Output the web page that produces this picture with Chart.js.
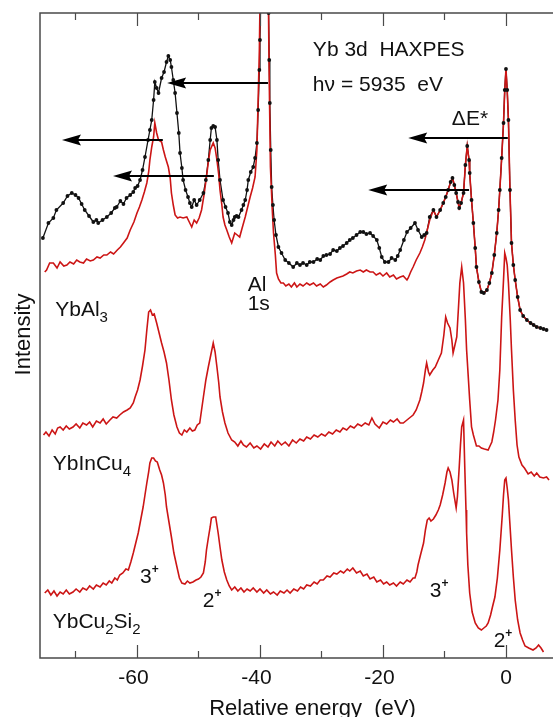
<!DOCTYPE html>
<html>
<head>
<meta charset="utf-8">
<script src="https://cdn.jsdelivr.net/npm/chart.js@4.4.1/dist/chart.umd.min.js"></script>
<style>
html,body{margin:0;padding:0;background:#fff;overflow:hidden;width:553px;height:717px;}
canvas{display:block;}
</style>
</head>
<body>
<canvas id="c" width="600" height="717"></canvas>
<script>
// ---- data (energy in eV, intensity in arb. units) ----
const ybAl3Black = [
[-75.3,420],[-74.4,435],[-73.6,440],[-73.1,448],[-72.0,455],[-71.3,462],[-70.6,465],[-70.0,463],[-69.5,460],[-69.0,454],
[-68.5,448],[-67.8,442],[-67.1,436],[-66.6,438],[-66.3,435],[-65.6,438],[-64.9,441],[-64.2,445],[-63.6,450],[-63.3,451],
[-62.7,457],[-62.2,454],[-61.7,460],[-61.1,463],[-60.6,466],[-60.3,470],[-59.9,472],[-59.5,478],[-59.1,488],[-58.7,501],
[-58.2,518],[-57.9,528],[-57.6,538],[-57.3,558],[-57.1,576],[-56.8,570],[-56.5,565],[-56.0,580],[-55.6,586],[-55.2,596],
[-54.9,602],[-54.6,598],[-54.4,591],[-54.1,578],[-53.8,565],[-53.5,545],[-53.2,525],[-53.0,505],[-52.7,490],[-52.5,478],
[-52.1,468],[-51.7,461],[-51.4,455],[-51.1,451],[-50.7,458],[-50.3,453],[-49.8,458],[-49.2,465],[-48.8,478],[-48.4,498],
[-48.1,518],[-47.9,530],[-47.6,532],[-47.3,531],[-47.0,518],[-46.8,498],[-46.5,478],[-46.0,458],[-45.6,451],[-45.2,445],
[-44.9,436],[-44.6,433],[-44.3,438],[-44.1,441],[-43.8,442],[-43.5,441],[-43.0,448],[-42.7,453],[-42.4,458],[-42.1,468],
[-41.9,478],[-41.5,486],[-41.1,491],[-40.8,500],[-40.5,515],[-40.3,548],[-40.1,588],[-40.0,618],[-39.8,690],[-39.3,820],
[-38.8,690],[-38.6,645],[-38.5,598],[-38.4,555],[-38.25,508],[-38.1,471],[-37.9,453],[-37.7,438],[-37.4,423],[-37.0,411],
[-36.5,405],[-35.9,398],[-35.3,395],[-34.6,391],[-34.0,395],[-33.5,393],[-33.0,395],[-32.4,393],[-31.9,396],[-31.3,396],
[-30.7,399],[-30.2,398],[-29.7,402],[-29.2,403],[-28.6,404],[-28.1,408],[-27.5,407],[-27.0,410],[-26.5,412],[-25.9,415],
[-25.4,418],[-24.9,420],[-24.3,423],[-23.7,426],[-23.2,426],[-22.7,424],[-22.1,425],[-21.6,422],[-21.0,418],[-20.6,410],
[-20.2,401],[-19.7,396],[-19.1,396],[-18.6,400],[-18.0,398],[-17.6,402],[-17.2,408],[-16.6,418],[-16.1,426],[-15.5,430],
[-14.8,435],[-14.3,428],[-13.7,421],[-13.3,423],[-12.9,425],[-12.4,441],[-11.8,448],[-11.3,441],[-10.7,448],[-10.2,455],
[-9.8,461],[-9.4,468],[-9.0,476],[-8.7,480],[-8.4,473],[-8.1,465],[-7.8,456],[-7.6,450],[-7.3,455],[-6.9,465],
[-6.6,493],[-6.3,512],[-6.0,498],[-5.9,485],[-5.6,458],[-5.3,435],[-5.0,410],[-4.8,391],[-4.4,376],[-4.0,366],
[-3.6,365],[-3.1,368],[-2.7,375],[-2.3,385],[-1.9,403],[-1.5,425],[-1.2,448],[-1.0,468],[-0.7,500],[-0.4,535],
[-0.2,568],[0.0,589],[0.2,568],[0.4,538],[0.65,468],[0.9,415],[1.2,393],[1.5,378],[1.9,361],[2.3,348],
[2.8,342],[3.4,338],[4.0,335],[4.5,333],[5.0,331],[5.6,330],[6.1,329],[6.6,328]
];
const ybAl3RedLow = [
[-75.0,386],[-74.7,388],[-74.2,395],[-73.6,395],[-73.0,390],[-72.5,396],[-71.9,392],[-71.4,393],[-70.9,396],[-70.3,394],
[-69.8,398],[-69.3,396],[-68.7,395],[-68.2,399],[-67.6,397],[-67.1,398],[-66.5,401],[-66.0,400],[-65.4,403],[-64.9,403],
[-64.3,406],[-63.8,404],[-63.2,408],[-62.7,411],[-62.2,415],[-61.6,420],[-61.1,428],[-60.5,436],[-60.0,445],[-59.6,451],
[-59.2,458],[-58.8,466],[-58.4,475],[-58.1,486],[-57.9,498],[-57.6,511],[-57.3,521],[-57.1,535],[-56.8,525],[-56.5,518],
[-56.0,516],[-55.7,508],[-55.4,501],[-54.9,491],[-54.6,480],[-54.4,465],[-54.1,453],[-53.8,443],[-53.4,440],[-53.0,441],
[-52.5,440],[-51.9,441],[-51.5,436],[-51.1,431],[-50.7,438],[-50.3,435],[-49.9,440],[-49.5,448],[-49.1,463],[-48.7,481],
[-48.4,496],[-48.1,508],[-47.6,515],[-47.3,510],[-47.0,498],[-46.7,483],[-46.5,468],[-46.2,453],[-46.0,441],[-45.7,433],
[-45.4,428],[-45.0,421],[-44.6,415],[-44.3,421],[-44.1,425],[-43.7,423],[-43.3,421],[-42.9,430],[-42.4,441],[-42.0,451],
[-41.6,461],[-41.2,470],[-40.8,481],[-40.5,508],[-40.3,558],[-40.1,608],[-39.9,700],[-39.3,830],[-38.7,700],[-38.55,608],
[-38.45,558],[-38.3,491],[-38.0,448],[-37.8,425],[-37.5,403],[-37.3,385],[-37.0,379],[-36.6,375],[-36.2,375],[-35.8,372],
[-35.3,374],[-34.9,371],[-34.4,375],[-34.0,371],[-33.5,374],[-33.0,372],[-32.4,375],[-31.9,373],[-31.3,375],[-30.8,372],
[-30.2,374],[-29.7,371],[-29.2,373],[-28.6,376],[-28.1,378],[-27.5,380],[-27.0,381],[-26.5,382],[-25.9,384],[-25.4,386],
[-24.9,385],[-24.3,387],[-23.7,388],[-23.2,386],[-22.7,388],[-22.1,386],[-21.6,386],[-21.1,383],[-20.5,385],[-20.0,382],
[-19.4,385],[-18.9,381],[-18.3,383],[-17.8,379],[-17.2,381],[-16.7,382],[-16.1,378],[-15.9,380],[-15.5,386],[-15.1,391],
[-14.6,398],[-14.0,405],[-13.6,411],[-13.2,418],[-12.8,428],[-12.4,438]
];
const ybAl3Red = ybAl3RedLow.concat(ybAl3Black.filter(p => p[0] > -12.2));
const ybInCu4 = [
[-75.2,223],[-74.8,226],[-74.3,222],[-73.8,228],[-73.3,224],[-72.9,230],[-72.5,231],[-72.0,228],[-71.5,232],[-71.0,229],
[-70.4,231],[-69.9,234],[-69.3,230],[-68.8,235],[-68.2,233],[-67.7,236],[-67.2,231],[-66.6,237],[-66.0,235],[-65.5,239],
[-65.0,234],[-64.4,238],[-63.9,241],[-63.3,240],[-62.8,243],[-62.2,246],[-61.6,248],[-61.1,250],[-60.6,255],[-60.3,261],
[-59.9,268],[-59.5,278],[-59.1,292],[-58.7,308],[-58.4,328],[-58.1,346],[-57.8,348],[-57.5,343],[-57.2,344],[-56.8,335],
[-56.4,325],[-56.0,315],[-55.6,306],[-55.2,295],[-54.8,278],[-54.4,258],[-54.0,243],[-53.5,231],[-53.1,225],[-52.7,223],
[-52.3,228],[-51.9,226],[-51.4,230],[-51.0,227],[-50.6,228],[-50.2,233],[-49.8,235],[-49.5,248],[-49.2,261],[-48.8,278],
[-48.4,291],[-48.0,303],[-47.6,315],[-47.3,306],[-47.0,291],[-46.7,275],[-46.5,261],[-46.1,246],[-45.7,235],[-45.2,225],
[-44.6,218],[-44.1,216],[-43.6,212],[-43.1,217],[-42.7,213],[-42.2,211],[-41.6,215],[-41.0,210],[-40.5,212],[-39.9,209],
[-39.3,214],[-38.7,211],[-38.2,216],[-37.6,212],[-37.1,217],[-36.5,213],[-35.9,216],[-35.3,212],[-34.7,218],[-34.1,215],
[-33.5,219],[-32.9,217],[-32.4,221],[-31.8,219],[-31.2,223],[-30.6,221],[-30.0,224],[-29.4,222],[-28.8,226],[-28.2,224],
[-27.6,228],[-27.0,226],[-26.5,230],[-25.9,228],[-25.3,232],[-24.7,230],[-24.1,234],[-23.5,232],[-22.9,235],[-22.3,233],
[-21.8,240],[-21.3,234],[-20.6,230],[-20.0,236],[-19.4,234],[-18.8,238],[-18.3,236],[-17.7,239],[-17.2,235],[-16.7,235],
[-16.1,238],[-15.5,241],[-15.1,243],[-14.6,248],[-14.0,258],[-13.7,266],[-13.4,275],[-13.1,288],[-12.9,295],[-12.6,286],
[-12.4,283],[-11.9,288],[-11.5,291],[-11.0,298],[-10.5,305],[-10.1,323],[-9.8,341],[-9.5,335],[-9.1,330],[-8.8,318],
[-8.6,305],[-8.3,313],[-8.0,321],[-7.7,353],[-7.5,375],[-7.2,391],[-6.9,375],[-6.6,338],[-6.4,308],[-6.1,278],
[-5.9,258],[-5.6,231],[-5.3,223],[-4.8,212],[-4.4,212],[-4.0,210],[-3.5,209],[-2.9,208],[-2.6,212],[-2.3,216],
[-2.0,226],[-1.7,238],[-1.3,258],[-1.0,288],[-0.7,341],[-0.4,378],[-0.2,405],[0.0,400],[0.2,393],[0.4,375],
[0.7,338],[0.9,308],[1.2,268],[1.5,238],[1.8,213],[2.1,201],[2.6,193],[3.0,190],[3.6,184],[4.1,186],
[4.6,182],[5.0,185],[5.5,181],[6.1,180],[6.6,181],[7.0,178]
];
const ybCu2Si2 = [
[-75.0,65],[-74.5,68],[-74.0,63],[-73.5,67],[-73.0,62],[-72.5,66],[-72.0,64],[-71.5,68],[-71.0,64],[-70.4,66],
[-69.9,69],[-69.3,66],[-68.8,70],[-68.2,68],[-67.7,72],[-67.1,69],[-66.6,73],[-66.0,71],[-65.5,75],[-65.0,73],
[-64.5,77],[-64.1,75],[-63.6,80],[-63.2,78],[-62.8,83],[-62.3,85],[-61.8,89],[-61.4,88],[-61.0,96],[-60.6,105],
[-60.2,115],[-59.8,125],[-59.4,138],[-59.0,151],[-58.7,163],[-58.4,175],[-58.1,186],[-57.9,195],[-57.6,200],[-57.3,200],
[-57.0,197],[-56.7,196],[-56.3,188],[-56.0,183],[-55.7,175],[-55.4,163],[-55.2,151],[-54.8,136],[-54.4,121],[-54.0,105],
[-53.5,91],[-53.1,80],[-52.7,75],[-52.2,74],[-51.8,77],[-51.4,75],[-50.9,76],[-50.4,78],[-50.0,79],[-49.6,81],
[-49.2,85],[-48.9,96],[-48.7,108],[-48.4,120],[-48.1,131],[-47.9,140],[-47.6,141],[-47.2,141],[-47.0,133],[-46.8,125],
[-46.5,111],[-46.2,98],[-45.8,86],[-45.4,78],[-45.0,72],[-44.6,68],[-44.1,71],[-43.6,67],[-43.1,70],[-42.6,66],
[-42.1,69],[-41.6,67],[-41.1,70],[-40.5,66],[-40.0,69],[-39.4,65],[-38.9,68],[-38.3,64],[-37.8,66],[-37.2,63],
[-36.7,67],[-36.1,65],[-35.6,68],[-35.1,65],[-34.5,69],[-33.9,67],[-33.4,71],[-32.9,69],[-32.4,73],[-31.8,72],
[-31.2,76],[-30.7,74],[-30.2,78],[-29.7,78],[-29.1,82],[-28.6,81],[-28.0,85],[-27.5,84],[-26.9,87],[-26.4,85],
[-25.8,89],[-25.4,87],[-24.9,90],[-24.3,85],[-23.7,87],[-23.2,82],[-22.6,84],[-22.1,79],[-21.5,81],[-21.0,76],
[-20.4,78],[-19.9,74],[-19.4,76],[-18.9,73],[-18.3,75],[-17.8,72],[-17.2,76],[-16.7,74],[-16.1,78],[-15.6,76],
[-15.1,80],[-14.8,80],[-14.5,86],[-14.3,93],[-13.9,103],[-13.4,115],[-13.1,128],[-12.8,138],[-12.5,140],[-12.2,137],
[-11.8,139],[-11.4,143],[-11.0,148],[-10.7,153],[-10.3,163],[-9.9,175],[-9.6,186],[-9.4,190],[-9.1,186],[-8.8,178],
[-8.5,165],[-8.1,150],[-7.9,161],[-7.6,191],[-7.4,213],[-7.2,231],[-6.9,238],[-6.7,191],[-6.5,148],[-6.4,125],
[-6.2,93],[-5.9,65],[-5.5,46],[-5.0,35],[-4.5,30],[-4.0,28],[-3.6,30],[-3.2,32],[-2.9,35],[-2.5,43],
[-2.2,51],[-1.8,61],[-1.4,80],[-1.0,108],[-0.6,143],[-0.4,163],[-0.2,178],[0.0,180],[0.2,170],[0.4,158],
[0.6,138],[0.9,108],[1.2,81],[1.5,58],[1.9,38],[2.3,25],[2.7,18],[3.1,12],[3.7,10],[4.4,8],
[4.9,10],[5.3,13],[5.7,10],[6.1,6]
];
const majorTicks = [-60, -40, -20, 0];
const minorTicks = [-70, -50, -30, -10];
// arrows: [from energy, to energy (tip), intensity]
const arrows = [[-38.7,-55.1,575],[-55.8,-72.2,518],[-47.5,-63.9,482],[0.3,-15.9,520],[-6.0,-22.4,468]];
// text labels: [segments, energy (left), intensity (baseline)]
const labels = [
  [[['Yb 3d  HAXPES','n']], -31.4, 602],
  [[['h\u03bd = 5935  eV','n']], -31.4, 567],
  [[['\u0394E*','n']], -8.8, 533],
  [[['Al','n']], -42.0, 367],
  [[['1s','n']], -42.0, 348],
  [[['YbAl','n'],['3','sub']], -73.3, 342],
  [[['YbInCu','n'],['4','sub']], -73.7, 188],
  [[['YbCu','n'],['2','sub'],['Si','n'],['2','sub']], -73.7, 30],
  [[['3','n'],['+','sup']], -59.5, 75],
  [[['2','n'],['+','sup']], -49.3, 51],
  [[['3','n'],['+','sup']], -12.4, 61],
  [[['2','n'],['+','sup']], -2.0, 11]
];
const xTitle = 'Relative energy  (eV)';
const yTitle = 'Intensity';

const RED = '#cc1515';
const FONT = '"Liberation Sans", Arial, sans-serif';

const decor = {
  id: 'decor',
  afterDatasetsDraw(chart) {
    const {ctx, chartArea: a, scales: {x, y}} = chart;
    ctx.save();
    // arrows
    ctx.strokeStyle = '#000'; ctx.fillStyle = '#000'; ctx.lineWidth = 2;
    arrows.forEach(([e1, e2, v]) => {
      const x1 = x.getPixelForValue(e1), x2 = x.getPixelForValue(e2), py = y.getPixelForValue(v);
      ctx.beginPath(); ctx.moveTo(x1, py); ctx.lineTo(x2 + 12, py); ctx.stroke();
      ctx.beginPath(); ctx.moveTo(x2, py); ctx.lineTo(x2 + 19, py - 5.5); ctx.lineTo(x2 + 16, py); ctx.lineTo(x2 + 19, py + 5.5); ctx.closePath(); ctx.fill();
    });
    // labels
    ctx.fillStyle = '#111'; ctx.textBaseline = 'alphabetic'; ctx.textAlign = 'left';
    labels.forEach(([segs, e, v]) => {
      let px = x.getPixelForValue(e); const py = y.getPixelForValue(v);
      segs.forEach(([t, k]) => {
        if (k === 'n') { ctx.font = '21px ' + FONT; ctx.fillText(t, px, py); }
        else if (k === 'sub') { ctx.font = '15px ' + FONT; ctx.fillText(t, px, py + 6); }
        else { ctx.font = 'bold 12px ' + FONT; ctx.fillText(t, px, py - 10); }
        px += ctx.measureText(t).width;
      });
    });
    // frame
    ctx.strokeStyle = '#4a4a4a'; ctx.lineWidth = 1.5;
    ctx.beginPath();
    ctx.moveTo(a.right, a.top); ctx.lineTo(a.left, a.top); ctx.lineTo(a.left, a.bottom); ctx.lineTo(a.right, a.bottom);
    ctx.stroke();
    const tick = (val, len) => {
      const px = Math.round(x.getPixelForValue(val)) + 0.5;
      ctx.beginPath();
      ctx.moveTo(px, a.bottom); ctx.lineTo(px, a.bottom - len);
      ctx.moveTo(px, a.top); ctx.lineTo(px, a.top + len);
      ctx.stroke();
    };
    ctx.lineWidth = 1.2;
    majorTicks.forEach(v => tick(v, 13));
    minorTicks.forEach(v => tick(v, 7));
    // tick labels (digits centred on tick, minus sign hanging)
    ctx.fillStyle = '#111'; ctx.font = '21px ' + FONT; ctx.textAlign = 'right';
    majorTicks.forEach(v => {
      const px = x.getPixelForValue(v);
      const digits = String(Math.abs(v));
      const w = ctx.measureText(digits).width;
      ctx.fillText(v < 0 ? '-' + digits : digits, px + w / 2, a.bottom + 26);
    });
    // axis titles
    ctx.font = '22px ' + FONT; ctx.textAlign = 'center';
    ctx.fillText(xTitle, (a.left + a.right) / 2, 715);
    ctx.translate(30, (a.top + a.bottom) / 2 - 1);
    ctx.rotate(-Math.PI / 2);
    ctx.fillText(yTitle, 0, 0);
    ctx.restore();
  }
};

new Chart(document.getElementById('c'), {
  type: 'scatter',
  data: {
    datasets: [
      {label: 'YbAl3 points', data: ybAl3Black, showLine: false, pointRadius: 1.9, pointBackgroundColor: '#111', pointBorderWidth: 0, order: 0},
      {label: 'YbAl3 red', data: ybAl3Red, showLine: true, borderColor: RED, borderWidth: 1.6, pointRadius: 0, order: 1},
      {label: 'YbInCu4', data: ybInCu4, showLine: true, borderColor: RED, borderWidth: 1.6, pointRadius: 0, order: 1},
      {label: 'YbCu2Si2', data: ybCu2Si2, showLine: true, borderColor: RED, borderWidth: 1.6, pointRadius: 0, order: 1},
      {label: 'YbAl3 black', data: ybAl3Black, showLine: true, borderColor: '#111', borderWidth: 1.3, pointRadius: 0, order: 2}
    ]
  },
  options: {
    responsive: false, animation: false, devicePixelRatio: 1,
    layout: {padding: {left: 40, top: 13, right: 15, bottom: 59}},
    plugins: {legend: {display: false}, tooltip: {enabled: false}},
    scales: {
      x: {type: 'linear', min: -75.77, max: 12.85, display: false},
      y: {type: 'linear', min: 0, max: 645, display: false}
    }
  },
  plugins: [decor]
});
</script>
</body>
</html>
